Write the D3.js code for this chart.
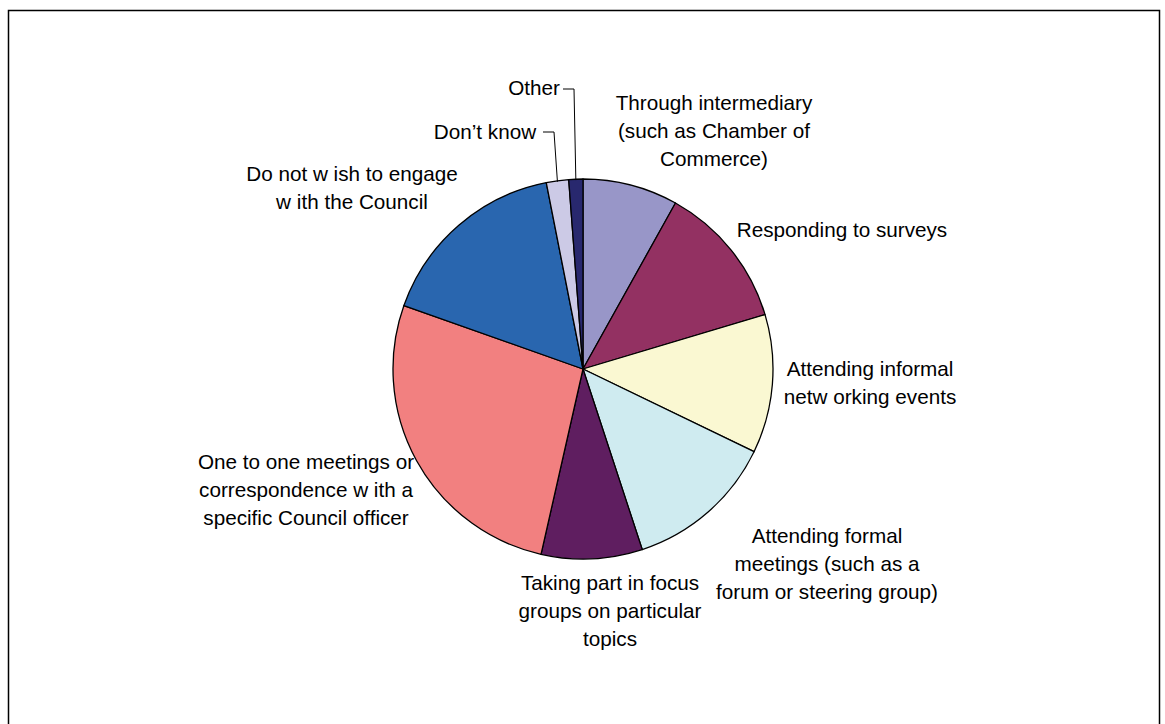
<!DOCTYPE html>
<html lang="en">
<head>
<meta charset="utf-8">
<title>Ways of engaging with the Council</title>
<script src="https://cdn.jsdelivr.net/npm/d3@7"></script>
<style>
  body { margin: 0; background: #fff; }
  #chart text {
    font-family: Arial, "Liberation Sans", sans-serif;
    font-size: 20.7px;
    fill: #000;
  }
</style>
</head>
<body>
<div id="chart"></div>
<script>
// slices clockwise from 12 o'clock
var categories = [
  "Through intermediary (such as Chamber of Commerce)",
  "Responding to surveys",
  "Attending informal networking events",
  "Attending formal meetings (such as a forum or steering group)",
  "Taking part in focus groups on particular topics",
  "One to one meetings or correspondence with a specific Council officer",
  "Do not wish to engage with the Council",
  "Don't know",
  "Other"
];
var values = [8.1, 12.3, 11.8, 12.8, 8.6, 26.9, 16.5, 1.9, 1.2];
var colors = ["#9896c8", "#933162", "#faf8d2", "#cfebf0", "#5f1e60",
              "#f28080", "#2966af", "#cccae6", "#28286e"];
// label lines as drawn on the chart
var labelLines = [
  ["Through intermediary", "(such as Chamber of", "Commerce)"],
  ["Responding to surveys"],
  ["Attending informal", "netw orking events"],
  ["Attending formal", "meetings (such as a", "forum or steering group)"],
  ["Taking part in focus", "groups on particular", "topics"],
  ["One to one meetings or", "correspondence w ith a", "specific Council officer"],
  ["Do not w ish to engage", "w ith the Council"],
  ["Don\u2019t know"],
  ["Other"]
];

var width = 1165, height = 724;
var cx = 583, cy = 369, radius = 190;

// label anchor (centre x, first baseline) per slice
var labelPos = [
  [714, 110], [842, 237], [870, 376], [827, 543], [610, 590],
  [306, 469], [352, 181], [485, 139], [534, 95]
];

var svg = d3.select("#chart").append("svg")
  .attr("width", width)
  .attr("height", height);

svg.append("rect")
  .attr("x", 8.5).attr("y", 10.5)
  .attr("width", 1151).attr("height", 740)
  .attr("fill", "none")
  .attr("stroke", "#000")
  .attr("stroke-width", 1.5);

var pie = d3.pie().sort(null).value(function(d) { return d; });
var arc = d3.arc().innerRadius(0).outerRadius(radius);
var arcs = pie(values);

var g = svg.append("g").attr("transform", "translate(" + cx + "," + cy + ")");

g.selectAll("path")
  .data(arcs)
  .enter()
  .append("path")
  .attr("d", arc)
  .attr("fill", function(d, i) { return colors[i]; })
  .attr("stroke", "#000")
  .attr("stroke-width", 1.3)
  .attr("stroke-linejoin", "round");

// leader lines for the two small slices
function edgePoint(d) {
  var a = (d.startAngle + d.endAngle) / 2;
  return [cx + radius * Math.sin(a), cy - radius * Math.cos(a)];
}
var leaders = [
  { i: 7, x0: 543, x1: 554, y: 132 },
  { i: 8, x0: 563, x1: 574, y: 89 }
];
leaders.forEach(function(l) {
  var p = edgePoint(arcs[l.i]);
  svg.append("path")
    .attr("d", "M" + l.x0 + "," + l.y + "H" + l.x1 + "L" + p[0] + "," + (p[1] + 1))
    .attr("fill", "none")
    .attr("stroke", "#000")
    .attr("stroke-width", 1);
});

var labels = svg.selectAll("text.lbl")
  .data(labelLines)
  .enter()
  .append("text")
  .attr("class", "lbl")
  .attr("text-anchor", "middle")
  .attr("x", function(d, i) { return labelPos[i][0]; })
  .attr("y", function(d, i) { return labelPos[i][1]; });

labels.each(function(lines, i) {
  var t = d3.select(this);
  lines.forEach(function(line, j) {
    t.append("tspan")
      .attr("x", labelPos[i][0])
      .attr("dy", j === 0 ? 0 : 28)
      .text(line);
  });
});
</script>
</body>
</html>
